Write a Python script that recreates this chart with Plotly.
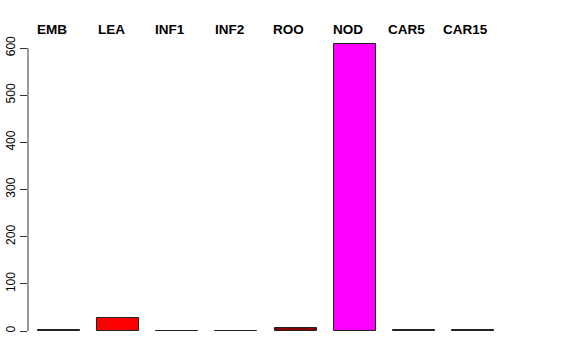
import plotly.graph_objects as go

categories = ["EMB", "LEA", "INF1", "INF2", "ROO", "NOD", "CAR5", "CAR15"]
values = [1.2, 27, 0.9, 0.9, 6, 609, 1.2, 1.8]
colors = ["#555555", "#ff0000", "#2f4f2f", "#2f2f4f", "#8b0000", "#ff00ff", "#4a4a5a", "#000000"]
y_ticks = [0, 100, 200, 300, 400, 500, 600]

xs = list(range(len(categories)))

fig = go.Figure()
fig.add_trace(go.Bar(
    x=xs, y=values, width=0.71,
    marker=dict(color=colors, line=dict(color="#222222", width=1)),
    showlegend=False, hoverinfo="skip",
))

for i, c in enumerate(categories):
    fig.add_annotation(x=i, y=1, xref="x", yref="paper", text="<b>%s</b>" % c,
                       showarrow=False, yanchor="middle", yshift=11, xshift=-7,
                       font=dict(family="Liberation Sans, Arial", size=13.5, color="black"))

# R-style y axis line spanning first to last tick
fig.add_shape(type="line", xref="paper", yref="y", x0=0, x1=0,
              y0=y_ticks[0], y1=y_ticks[-1], line=dict(color="#333333", width=1))

fig.update_layout(
    width=576, height=360,
    margin=dict(l=28, r=64, t=40, b=29, autoexpand=False),
    paper_bgcolor="white", plot_bgcolor="white",
    xaxis=dict(range=[-0.524, 7.66], showticklabels=False, showgrid=False,
               zeroline=False, showline=False, ticks="", automargin=False),
    yaxis=dict(range=[0, 617], tickvals=y_ticks, ticktext=[str(v) for v in y_ticks],
               tickangle=-90, ticks="outside", ticklen=7, tickcolor="#333333",
               showgrid=False, zeroline=False, showline=False, automargin=False,
               tickfont=dict(family="Liberation Sans, Arial", size=12, color="black")),
    bargap=0,
)

fig.write_html("out.html")
